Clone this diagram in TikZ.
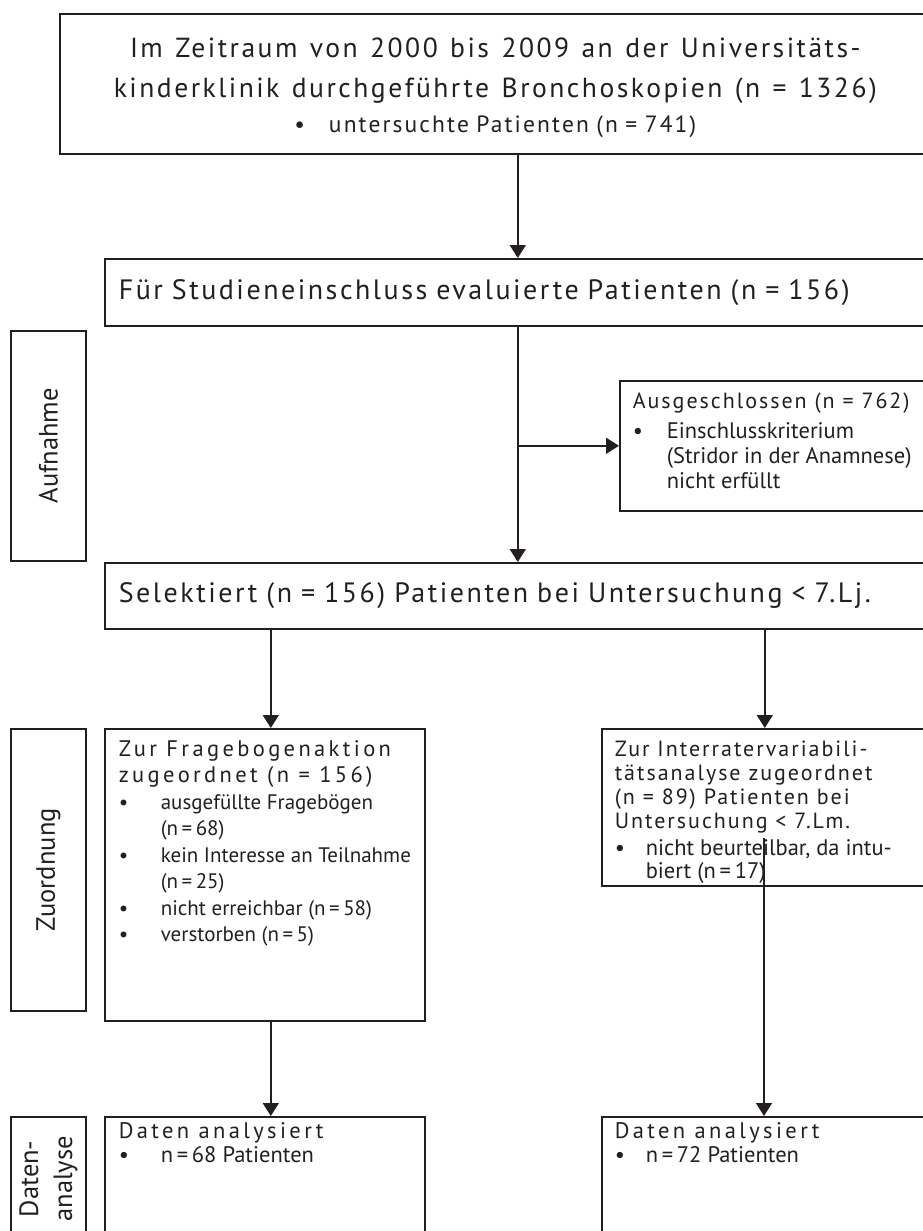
\documentclass[tikz,border=0pt]{standalone}
\usepackage{fontspec}
\setmainfont{PT Sans}
\newfontfamily\headfont[LetterSpace=9]{PT Sans}
\newfontfamily\wideheadfont[LetterSpace=15]{PT Sans}
\usetikzlibrary{arrows.meta,positioning}
\definecolor{ink}{HTML}{231F20}

% heading font: size, baselineskip
\newcommand{\hd}[2]{\headfont\fontsize{#1}{#2}\selectfont\spaceskip=0.32em\relax}
% top aligned box content: width, height, text
\newcommand{\inbox}[3]{\parbox[c][#2][t]{#1}{\raggedright #3}}
% bullet item with hanging indent
\newcommand{\bul}[2][42pt]{\par\hangindent=#1\hangafter=1\noindent\makebox[#1][l]{\textbullet}#2\par}

\begin{document}
\begin{tikzpicture}
[x=1pt, y=-1pt, line width=1.6pt, draw=ink, text=ink,
  panel/.style={draw, anchor=north west, inner xsep=14pt, inner ysep=12pt},
  sidebox/.style={draw, anchor=north west, minimum width=75pt, inner sep=0pt,
    font=\fontsize{26.5}{34}\selectfont},
  arr/.style={-{Triangle[width=16pt,length=13pt]}}]
  \useasboundingbox (0,0) rectangle (922,1231);

  % Aufnahme
  \node[panel] (start) at (59,13)
    {\parbox[c][116pt][t]{843pt}{\centering\vspace*{12pt}
     {\hd{27.6}{40}\spaceskip=0.45em Im Zeitraum von 2000 bis 2009 an der Universitäts-\\
      kinderklinik durchgeführte Bronchoskopien (n = 1326)\par}
     {\hd{23.5}{35}\textbullet\hspace{24pt}untersuchte Patienten (n = 741)\par}}};
  \node[panel, inner ysep=6pt, minimum height=67pt, text width=798pt] (evald) at (104,258)
    {\hd{28}{32}Für Studieneinschluss evaluierte Patienten (n = 156)};
  \node[panel, inner xsep=13pt] (excl) at (619,380)
    {\inbox{285pt}{106pt}{{\headfont\fontsize{22}{25}\selectfont Ausgeschlossen (n = 762)\par}
     \vspace{5pt}\fontsize{22.5}{25}\selectfont
     \bul[34pt]{Einschlusskriterium\newline(Stridor in der Anamnese)\newline nicht erfüllt}}};
  \node[panel, inner ysep=6pt, minimum height=66pt, text width=798pt] (sel) at (104,562)
    {\hd{28}{32}Selektiert (n = 156) Patienten bei Untersuchung < 7.Lj.};

  % Zuordnung
  \node[panel] (quest) at (104,728)
    {\inbox{292pt}{268pt}{{\wideheadfont\fontsize{22.5}{26}\selectfont Zur Fragebogenaktion\\zugeordnet (n = 156)\par}
     \fontsize{21}{26.5}\selectfont
     \bul{ausgefüllte Fragebögen\newline(n\,=\,68)}
     \bul{\mbox{kein Interesse an Teilnahme}\newline(n\,=\,25)}
     \bul{nicht erreichbar (n\,=\,58)}
     \bul{verstorben (n\,=\,5)}}};
  \node[panel, inner xsep=13pt] (inter) at (601,728)
    {\inbox{303pt}{133pt}{{\headfont\fontsize{22}{24}\selectfont Zur Interratervariabili-\\tätsanalyse zugeordnet\\(n = 89) Patienten bei\\Untersuchung < 7.Lm.\par}
     \vspace{4pt}\fontsize{22.5}{23}\selectfont
     \bul[31pt]{nicht beurteilbar, da intu-\newline biert (n\,=\,17)}}};

  % Datenanalyse
  \node[panel, inner ysep=6pt] (dataL) at (104,1116)
    {\inbox{292pt}{118pt}{{\wideheadfont\fontsize{22.5}{25}\selectfont Daten analysiert\par}
     \fontsize{22.5}{24}\selectfont
     \bul{n\,=\,68 Patienten}}};
  \node[panel, inner xsep=13pt, inner ysep=6pt] (dataR) at (601,1116)
    {\inbox{303pt}{118pt}{{\wideheadfont\fontsize{22.5}{25}\selectfont Daten analysiert\par}
     \fontsize{22.5}{24}\selectfont
     \bul[31pt]{n\,=\,72 Patienten}}};

  % phases
  \node[sidebox, minimum height=230pt] (aufn) at (10,330) {\rotatebox{90}{Aufnahme}};
  \node[sidebox, minimum height=282pt] (zuord) at (10,728) {\rotatebox{90}{Zuordnung}};
  \node[sidebox, minimum height=124pt] (daten) at (10,1116)
    {\rotatebox{90}{\begin{tabular}{@{}c@{}}Daten-\\analyse\end{tabular}}};

  % arrows
  \draw[arr] (evald.north |- start.south) -- (evald.north);
  \draw[arr] (evald.south) -- (sel.north);
  \draw[arr] (evald.south |- excl.west) -- (excl.west);
  \draw[arr] ([xshift=6pt]quest.north |- sel.south) -- ([xshift=6pt]quest.north);
  \draw[arr] ([xshift=-1.5pt]inter.north |- sel.south) -- ([xshift=-1.5pt]inter.north);
  \draw[arr] ([xshift=6pt]quest.south) -- ([xshift=6pt]dataL.north);
  \coordinate (tail) at (764,838);
  \draw[arr] (tail) -- (tail |- dataR.north);
\end{tikzpicture}
\end{document}
